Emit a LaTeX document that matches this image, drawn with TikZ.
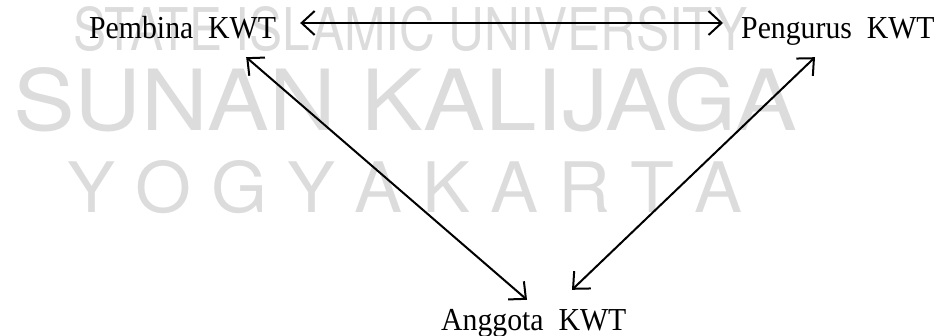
\documentclass[tikz,border=0pt]{standalone}
\usepackage{fontspec}
\setmainfont{Liberation Serif}
\newfontfamily\wmfont{TeX Gyre Heros}
\usetikzlibrary{arrows.meta}
\definecolor{wmgray}{HTML}{DCDCDC}
\newcommand{\narrowtxt}[1]{\scalebox{0.93}[1]{#1}}
\begin{document}
\begin{tikzpicture}[x=1pt,y=-1pt,
  lbl/.style={inner sep=0pt, anchor=base west, text height=30pt, text depth=0pt,
    font=\fontsize{32}{36}\selectfont},
  wm/.style={inner sep=0pt, anchor=north west, text=wmgray},
  arr/.style={line width=2pt, {Straight Barb[length=13pt,width=24pt,line width=2pt]}-{Straight Barb[length=13pt,width=24pt,line width=2pt]}}]
\useasboundingbox (0,0) rectangle (944,335);
% watermark
\node[wm] (wm1) at (73,6) {\resizebox{674pt}{44pt}{\wmfont STATE ISLAMIC UNIVERSITY}};
\node[wm] (wm2) at (13,67) {\resizebox{784pt}{63pt}{\wmfont SUNAN KALIJAGA}};
\node[wm] (wm3) at (67,160) {\resizebox{675pt}{52pt}{\wmfont Y O G Y A K A R T A}};
% labels
\node[lbl] (pembina) at (89,38) {\narrowtxt{Pembina\ \ KWT}};
\node[lbl] (pengurus) at (741,38) {\narrowtxt{Pengurus\ \ KWT}};
\node[lbl] (anggota) at (441,330) {\narrowtxt{Anggota\ \ KWT}};
% connectors
\draw[arr, shorten <=24pt, shorten >=18pt] (pembina.east) -- (pengurus.west);
\draw[arr] ([shift={(-30,19)}]pembina.south east) -- ([shift={(86,0)}]anggota.north west);
\draw[arr] ([shift={(74,19)}]pengurus.south west) -- ([shift={(131,-10)}]anggota.north west);
\end{tikzpicture}
\end{document}
